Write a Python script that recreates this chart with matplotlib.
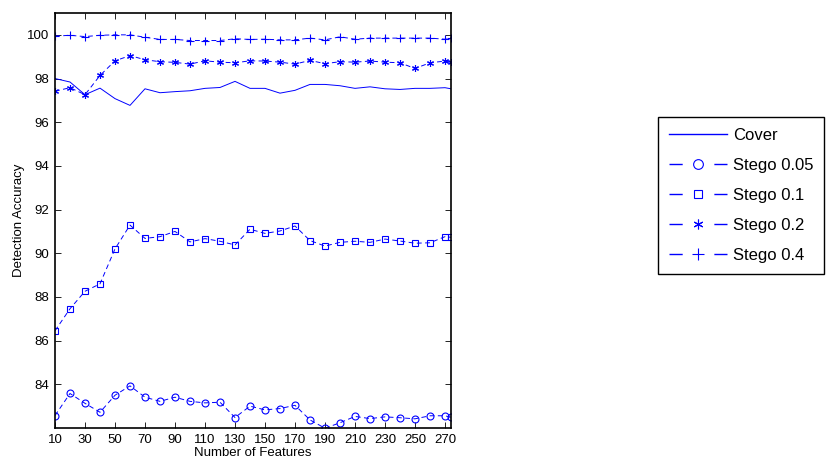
import matplotlib
matplotlib.use("Agg")
import matplotlib.pyplot as plt
from matplotlib.lines import Line2D

plt.rcParams["font.family"] = ["Liberation Sans", "DejaVu Sans"]

# number of features used
features = [10, 20, 30, 40, 50, 60, 70, 80, 90, 100, 110, 120, 130, 140,
            150, 160, 170, 180, 190, 200, 210, 220, 230, 240, 250, 260, 270, 274]

cover = [98.00, 97.84, 97.26, 97.56, 97.08, 96.77, 97.53, 97.35, 97.40, 97.44,
         97.55, 97.59, 97.87, 97.55, 97.55, 97.33, 97.46, 97.73, 97.73, 97.67,
         97.55, 97.62, 97.53, 97.50, 97.55, 97.55, 97.58, 97.53]

stego_005 = [82.57, 83.58, 83.13, 82.72, 83.50, 83.93, 83.41, 83.22, 83.41, 83.22,
             83.15, 83.18, 82.48, 83.00, 82.83, 82.89, 83.04, 82.37, 81.99, 82.24,
             82.53, 82.43, 82.51, 82.47, 82.42, 82.56, 82.56, 82.49]

stego_01 = [86.45, 87.46, 88.26, 88.60, 90.20, 91.29, 90.68, 90.76, 91.00, 90.52,
            90.67, 90.55, 90.38, 91.10, 90.91, 91.02, 91.25, 90.58, 90.33, 90.50,
            90.55, 90.50, 90.65, 90.56, 90.46, 90.48, 90.76, 90.73]

stego_02 = [97.42, 97.58, 97.26, 98.14, 98.81, 99.05, 98.86, 98.77, 98.74, 98.66,
            98.81, 98.75, 98.72, 98.81, 98.80, 98.75, 98.66, 98.83, 98.68, 98.77,
            98.75, 98.80, 98.75, 98.72, 98.46, 98.72, 98.80, 98.74]

stego_04 = [99.94, 99.98, 99.92, 99.98, 100.00, 100.00, 99.89, 99.79, 99.79, 99.74,
            99.74, 99.74, 99.82, 99.79, 99.80, 99.77, 99.77, 99.85, 99.77, 99.91,
            99.80, 99.85, 99.85, 99.85, 99.85, 99.85, 99.80, 99.86]

labels = ["Cover", "Stego 0.05", "Stego 0.1", "Stego 0.2", "Stego 0.4"]

fig = plt.figure(figsize=(8.29, 4.63), dpi=100)
ax = fig.add_axes([55 / 829, 1 - 428 / 463, 396 / 829, 415 / 463])

blue = "#0000ff"
dash = (0, (5, 3.5))
lw = 0.7
ms = 5

styles = [
    dict(marker=None),
    dict(marker="o", ms=ms, mfc="none", mew=0.8),
    dict(marker="s", ms=ms - 0.5, mfc="none", mew=0.8),
    dict(marker=(6, 2, 0), ms=ms, mew=0.8),
    dict(marker="+", ms=ms + 1, mew=0.8),
]
series = [cover, stego_005, stego_01, stego_02, stego_04]

handles = []
for i, (vals, st) in enumerate(zip(series, styles)):
    ls = "-" if i == 0 else dash
    ax.plot(features, vals, color=blue, lw=lw, ls=ls, **st)
    # legend proxy: matlab style "- o -"
    lls = "-" if i == 0 else (0, (9.5, 22.8))
    handles.append(Line2D([], [], color=blue, lw=1.0, ls=lls, **st))

ax.set_xlim(10, 274)
ax.set_ylim(82, 101)
ax.set_xticks(range(10, 271, 20))
ax.set_yticks(range(84, 101, 2))
ax.tick_params(direction="in", top=True, right=True, length=4, width=0.6,
               labelsize=9.5, pad=4)
for s in ax.spines.values():
    s.set_linewidth(1.2)

ax.set_xlabel("Number of Features", fontsize=9.5, labelpad=1)
ax.set_ylabel("Detection Accuracy", fontsize=9.5, labelpad=1.5)

leg = fig.legend(handles, labels, loc="upper left",
                 bbox_to_anchor=(658 / 829, 1 - 117 / 463),
                 borderaxespad=0, fontsize=12, handlelength=3.5,
                 labelspacing=0.9, fancybox=False, framealpha=1,
                 edgecolor="black", borderpad=0.65, handletextpad=0.35,
                 markerscale=1.4)
leg.get_frame().set_linewidth(1.0)

fig.savefig("out.png", dpi=100)
